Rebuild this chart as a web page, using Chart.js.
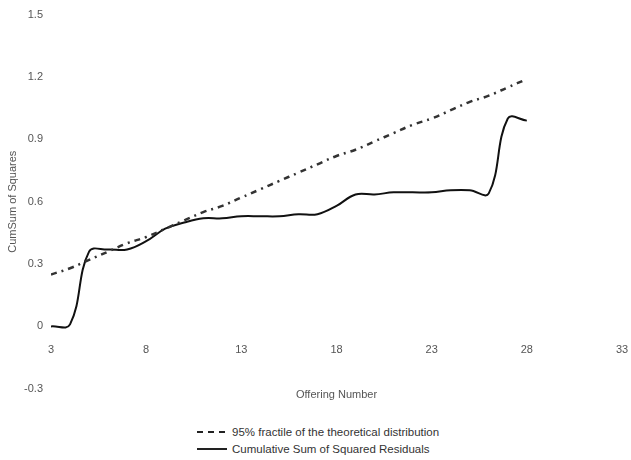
<!DOCTYPE html>
<html>
<head>
<meta charset="utf-8">
<script src="https://cdn.jsdelivr.net/npm/chart.js@4/dist/chart.umd.min.js"></script>
<style>
  html, body { margin: 0; padding: 0; background: #fff; }
  #wrap { position: relative; width: 631px; height: 460px; font-family: "Liberation Sans", Arial, sans-serif; }
  #box { position: absolute; left: 0; top: 0; width: 631px; height: 410px; }
  #legend { position: absolute; left: 197px; top: 423px; color: #333; font-size: 11.5px; }
  .row { display: flex; align-items: center; height: 17px; }
  .row svg { margin-right: 5px; }
</style>
</head>
<body>
<div id="wrap">
  <div id="box"><canvas id="c"></canvas></div>
  <div id="legend"></div>
</div>
<script>
// Offering numbers (x)
const offering = [3, 4, 5, 6, 7, 8, 9, 10, 11, 12, 13, 14, 15, 16, 17, 18, 19, 20, 21, 22, 23, 24, 25, 26, 27, 28];
// Cumulative sum of squared residuals
const cumSum = [0.00, 0.01, 0.36, 0.37, 0.37, 0.41, 0.47, 0.50, 0.52, 0.52, 0.53, 0.53, 0.53, 0.54, 0.54, 0.58,
                0.635, 0.635, 0.645, 0.645, 0.645, 0.655, 0.655, 0.64, 1.00, 0.99];
// 95% fractile of the theoretical distribution
const fractile = [0.25, 0.28, 0.32, 0.36, 0.40, 0.43, 0.47, 0.51, 0.55, 0.58, 0.62, 0.66, 0.70, 0.74, 0.78, 0.82,
                  0.85, 0.89, 0.93, 0.97, 1.00, 1.04, 1.08, 1.11, 1.15, 1.19];
const xTicks = [3, 8, 13, 18, 23, 28, 33];
const yTicks = [-0.3, 0, 0.3, 0.6, 0.9, 1.2, 1.5];
const labelFractile = "95% fractile of the theoretical distribution";
const labelCum = "Cumulative Sum of Squared Residuals";

const toPts = (ys) => offering.map((x, i) => ({ x: x, y: ys[i] }));
const FONT = { family: "'Liberation Sans', Arial, sans-serif", size: 11 };
const GREY = '#555';

new Chart(document.getElementById('c'), {
  type: 'line',
  data: {
    datasets: [
      { label: labelFractile, data: toPts(fractile), xAxisID: 'x', yAxisID: 'y',
        borderColor: '#333', borderWidth: 2.5, borderDash: [6, 5, 2, 5], pointRadius: 0,
        tension: 0.4, fill: false },
      { label: labelCum, data: toPts(cumSum), xAxisID: 'x', yAxisID: 'y',
        borderColor: '#111', borderWidth: 2, pointRadius: 0, tension: 0.4, fill: false }
    ]
  },
  options: {
    responsive: true, maintainAspectRatio: false, animation: false,
    layout: { padding: { top: 13, right: 9, bottom: 8, left: 0 } },
    plugins: { legend: { display: false }, tooltip: { enabled: false } },
    scales: {
      x: {
        type: 'linear', position: { y: 0 }, min: 3, max: 33,
        afterBuildTicks: (s) => { s.ticks = xTicks.map(v => ({ value: v })); },
        afterFit: (s) => { s.paddingLeft = 0; s.paddingRight = 0; },
        ticks: { color: GREY, font: FONT, padding: 17, maxRotation: 0 },
        grid: { display: false, drawTicks: false }, border: { display: false }
      },
      x2: {
        type: 'linear', position: 'bottom', min: 3, max: 33,
        afterFit: (s) => { s.paddingLeft = 0; s.paddingRight = 0; },
        ticks: { display: false }, grid: { display: false, drawTicks: false }, border: { display: false },
        title: { display: true, text: 'Offering Number', color: GREY, font: FONT, padding: { top: 0, bottom: 0 } }
      },
      y: {
        type: 'linear', position: 'left', min: -0.3, max: 1.5,
        afterBuildTicks: (s) => { s.ticks = yTicks.map(v => ({ value: v })); },
        afterFit: (s) => { s.width = 51; },
        ticks: { color: GREY, font: FONT, padding: 8 },
        grid: { display: false, drawTicks: false }, border: { display: false },
        title: { display: true, text: 'CumSum of Squares', color: GREY, font: FONT, padding: { top: 6, bottom: 0 } }
      }
    }
  }
});

// Legend (HTML)
const legend = document.getElementById('legend');
[[labelFractile, '6 5'], [labelCum, '']].forEach(([txt, dash]) => {
  const row = document.createElement('div');
  row.className = 'row';
  row.innerHTML = '<svg width="30" height="6"><line x1="0" y1="3" x2="30" y2="3" stroke="#222" stroke-width="2"' +
    (dash ? ' stroke-dasharray="' + dash + '"' : '') + '/></svg><span>' + txt + '</span>';
  legend.appendChild(row);
});
</script>
</body>
</html>
